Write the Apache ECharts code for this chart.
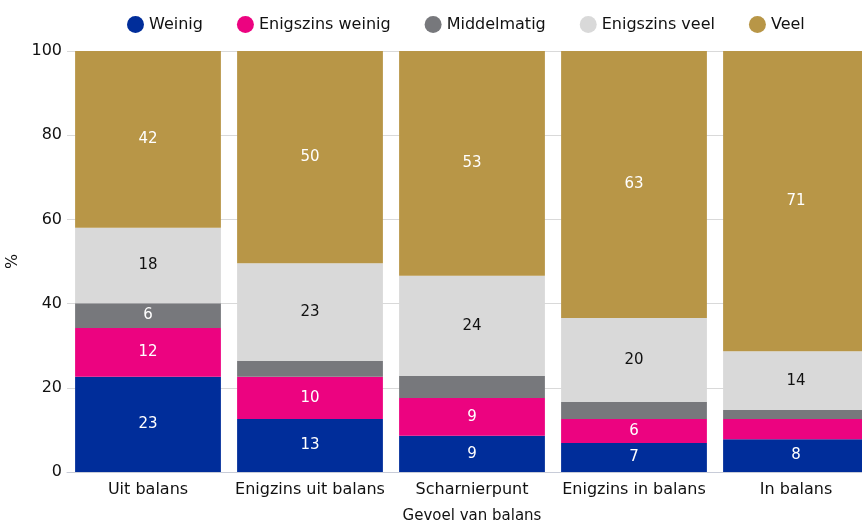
<!DOCTYPE html>
<html>
<head>
<meta charset="utf-8">
<script src="https://cdn.jsdelivr.net/npm/echarts@6/dist/echarts.min.js"></script>
<style>
  html, body { margin: 0; padding: 0; background: #fff; }
  #chart { width: 862px; height: 524px; }
</style>
</head>
<body>
<div id="chart"></div>
<script>
// categorieën en waarden (%)
const categories = ['Uit balans', 'Enigzins uit balans', 'Scharnierpunt', 'Enigzins in balans', 'In balans'];
const weinig = [22.6, 12.6, 8.6, 6.9, 7.8];
const enigszinsWeinig = [11.6, 10.0, 9.0, 5.7, 4.8];
const middelmatig = [5.9, 3.8, 5.2, 4.0, 2.1];
const enigszinsVeel = [17.9, 23.2, 23.8, 20.0, 14.0];
const veel = [42.0, 50.4, 53.4, 63.4, 71.3];

const font = 'DejaVu Sans';

const chart = echarts.init(document.getElementById('chart'));

function makeSerie(name, data, color, labelColor) {
  return {
    name: name,
    type: 'bar',
    stack: 'totaal',
    barCategoryGap: '10%',
    data: data,
    itemStyle: { color: color },
    label: {
      show: true,
      color: labelColor,
      fontFamily: font,
      fontSize: 15,
      formatter: (p) => (p.value >= 5.5 ? Math.round(p.value) : '')
    }
  };
}

chart.setOption({
  animation: false,
  textStyle: { fontFamily: font },
  legend: {
    top: 11,
    left: 122,
    icon: 'circle',
    itemWidth: 17,
    itemHeight: 17,
    itemGap: 34,
    textStyle: { fontFamily: font, fontSize: 16, color: '#111' }
  },
  grid: {
    top: 51,
    bottom: 52,
    left: 67,
    right: -15,
    outerBoundsMode: 'none'
  },
  xAxis: {
    type: 'category',
    data: categories,
    name: 'Gevoel van balans',
    nameLocation: 'middle',
    nameGap: 37,
    nameTextStyle: { fontFamily: font, fontSize: 15, color: '#111' },
    axisTick: { show: false },
    axisLine: { lineStyle: { color: '#c8ccd8' } },
    axisLabel: { interval: 0, fontFamily: font, fontSize: 16, color: '#111', margin: 10 }
  },
  yAxis: {
    type: 'value',
    min: 0,
    max: 100,
    interval: 20,
    name: '%',
    nameLocation: 'middle',
    nameGap: 45,
    nameTextStyle: { fontFamily: font, fontSize: 16, color: '#111' },
    axisLabel: { fontFamily: font, fontSize: 16, color: '#111', margin: 5 },
    splitLine: { lineStyle: { color: '#d9d9d9' } }
  },
  series: [
    makeSerie('Weinig', weinig, '#002d9a', '#fff'),
    makeSerie('Enigszins weinig', enigszinsWeinig, '#ec0380', '#fff'),
    makeSerie('Middelmatig', middelmatig, '#77787c', '#fff'),
    makeSerie('Enigszins veel', enigszinsVeel, '#d9d9d9', '#111'),
    makeSerie('Veel', veel, '#b89647', '#fff')
  ]
});
</script>
</body>
</html>
